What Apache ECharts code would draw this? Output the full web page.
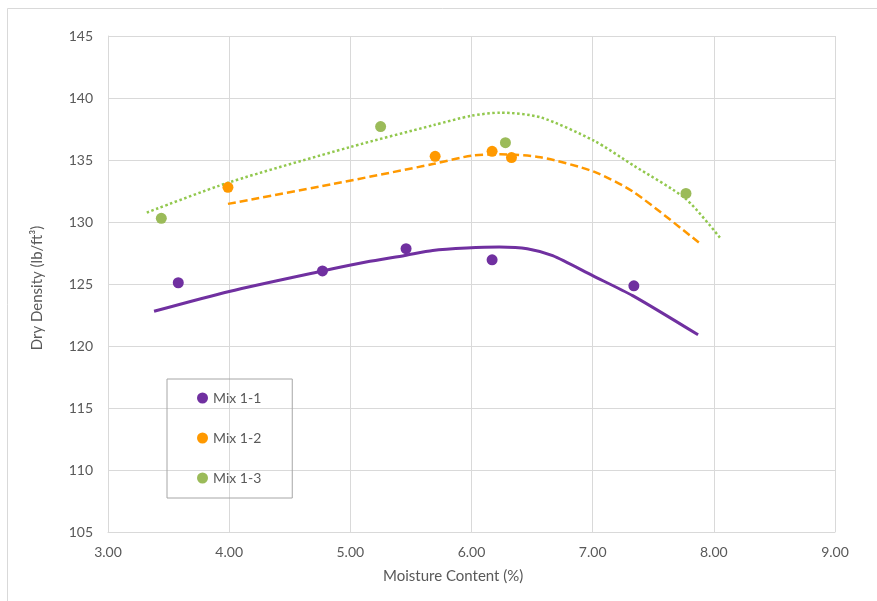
<!DOCTYPE html>
<html>
<head>
<meta charset="utf-8">
<script src="https://cdn.jsdelivr.net/npm/echarts@6/dist/echarts.min.js"></script>
<style>
html, body { margin: 0; padding: 0; background: #fff; }
#chart { width: 877px; height: 601px; }
</style>
</head>
<body>
<div id="chart"></div>
<script>
// measured points
var mix11X = [3.58, 4.77, 5.46, 6.17, 7.34];
var mix11Y = [125.1, 126.05, 127.85, 126.95, 124.85];
var mix12X = [3.99, 5.70, 6.17, 6.33];
var mix12Y = [132.8, 135.3, 135.7, 135.2];
var mix13X = [3.44, 5.25, 6.28, 7.77];
var mix13Y = [130.3, 137.7, 136.4, 132.3];

// trend lines
var trend11X = [3.38, 4.00, 4.77, 5.13, 5.45, 5.68, 5.96, 6.23, 6.46, 6.67, 7.00, 7.33, 7.87];
var trend11Y = [122.8, 124.4, 126.05, 126.77, 127.3, 127.7, 127.9, 127.98, 127.85, 127.28, 125.67, 124.06, 120.9];
var trend12X = [3.99, 4.86, 5.69, 6.00, 6.24, 6.57, 7.01, 7.34, 7.88];
var trend12Y = [131.46, 133.07, 134.69, 135.35, 135.46, 135.22, 134.06, 132.4, 128.31];
var trend13X = [3.32, 4.00, 5.00, 5.69, 6.00, 6.24, 6.57, 7.01, 7.34, 7.77, 8.05];
var trend13Y = [130.76, 133.2, 136.05, 137.82, 138.57, 138.82, 138.44, 136.56, 134.54, 131.85, 128.74];

var seriesNames = ['Mix 1-1', 'Mix 1-2', 'Mix 1-3'];

function pairs(xs, ys) {
    var out = [];
    for (var i = 0; i < xs.length; i++) out.push([xs[i], ys[i]]);
    return out;
}

var purple = '#7030A0', orange = '#FF9900', green = '#9BBB59', greenLine = '#92C84E';
var gridColor = '#D9D9D9', textColor = '#595959';
var fontFam = 'Lato, "Open Sans", sans-serif';

var myChart = echarts.init(document.getElementById('chart'));
var option = {
    backgroundColor: '#fff',
    animation: false,
    grid: { left: 108, right: 42, top: 36, bottom: 69 },
    xAxis: {
        type: 'value', min: 3, max: 9, interval: 1,
        axisLine: { show: true, lineStyle: { color: gridColor } },
        axisTick: { show: false },
        splitLine: { show: true, lineStyle: { color: gridColor } },
        axisLabel: {
            color: textColor, fontSize: 14, fontFamily: fontFam, margin: 13,
            formatter: function (v) { return v.toFixed(2); }
        }
    },
    yAxis: {
        type: 'value', min: 105, max: 145, interval: 5,
        axisLine: { show: true, lineStyle: { color: gridColor } },
        axisTick: { show: false },
        splitLine: { show: true, lineStyle: { color: gridColor } },
        axisLabel: { color: textColor, fontSize: 14, fontFamily: fontFam, margin: 15 }
    },
    legend: {
        orient: 'vertical', left: 167, top: 379,
        data: seriesNames, icon: 'circle', itemWidth: 11, itemHeight: 11,
        itemGap: 26, padding: [12, 31, 13, 30],
        borderColor: '#A6A6A6', borderWidth: 1,
        textStyle: { color: textColor, fontSize: 14, fontFamily: fontFam }
    },
    graphic: [
        { type: 'line', shape: { x1: 7.5, y1: 8.5, x2: 7.5, y2: 601 }, style: { stroke: gridColor, lineWidth: 1 } },
        { type: 'line', shape: { x1: 7.5, y1: 8.5, x2: 877, y2: 8.5 }, style: { stroke: gridColor, lineWidth: 1 } },
        {
            type: 'text', left: 383, top: 569,
            style: { text: 'Moisture Content (%)', fill: textColor, fontSize: 15, fontFamily: fontFam }
        },
        {
            type: 'text', x: 37, y: 288, rotation: Math.PI / 2,
            style: { text: 'Dry Density (lb/ft³)', fill: textColor, fontSize: 15, fontFamily: fontFam, align: 'center', verticalAlign: 'middle' }
        }
    ],
    series: [
        {
            name: 'Mix 1-1 trend', type: 'line', data: pairs(trend11X, trend11Y), smooth: 0.25,
            showSymbol: false, lineStyle: { color: purple, width: 3 }, z: 2
        },
        {
            name: 'Mix 1-2 trend', type: 'line', data: pairs(trend12X, trend12Y), smooth: 0.25,
            showSymbol: false, lineStyle: { color: orange, width: 2.5, type: [8, 4] }, z: 2
        },
        {
            name: 'Mix 1-3 trend', type: 'line', data: pairs(trend13X, trend13Y), smooth: 0.25,
            showSymbol: false, lineStyle: { color: greenLine, width: 2.5, type: [2.5, 2.5] }, z: 2
        },
        { name: 'Mix 1-1', type: 'scatter', data: pairs(mix11X, mix11Y), symbolSize: 11, itemStyle: { color: purple, opacity: 1 }, z: 3 },
        { name: 'Mix 1-2', type: 'scatter', data: pairs(mix12X, mix12Y), symbolSize: 11, itemStyle: { color: orange, opacity: 1 }, z: 3 },
        { name: 'Mix 1-3', type: 'scatter', data: pairs(mix13X, mix13Y), symbolSize: 11, itemStyle: { color: green, opacity: 1 }, z: 3 }
    ]
};
myChart.setOption(option);
</script>
</body>
</html>
